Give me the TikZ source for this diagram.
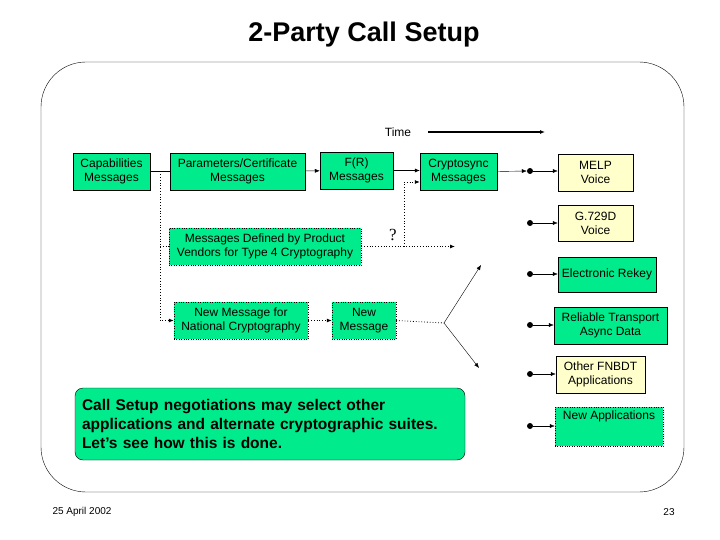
\documentclass[tikz,border=0pt]{standalone}
\usepackage{fontspec}
\setmainfont{Liberation Sans}
\newfontfamily\qserif{Liberation Serif}
\usetikzlibrary{arrows.meta}
\definecolor{gr}{RGB}{0,236,140}
\definecolor{cr}{RGB}{255,255,204}
\begin{document}
\begin{tikzpicture}[x=1pt,y=-1pt,
 box/.style={draw,fill=gr,inner sep=0pt,align=center,font=\fontsize{12}{14}\selectfont},
 dbox/.style={box,dotted},
 cbox/.style={box,fill=cr},
 ar/.style={-{Latex[length=5pt,width=4pt]}},
 dar/.style={ar,dotted,thick},
 dot/.style={circle,fill=black,inner sep=0pt,minimum size=6pt}]
\useasboundingbox (0,0) rectangle (720,540);
\node[font=\bfseries\fontsize{27}{30}\selectfont] (title) at (364,35) {2-Party Call Setup};
\draw[rounded corners=45pt] (41,62) rectangle (684,492);
\node[font=\fontsize{10}{12}\selectfont] (date) at (82,512) {25 April 2002};
\node[font=\fontsize{10}{12}\selectfont] (pg) at (669,512) {23};
\node[font=\fontsize{12}{14}\selectfont] (time) at (398,132) {Time};
\coordinate (t1) at (428,132); \coordinate (t2) at (545,132);
\draw[ar,line width=1.3pt] (t1) -- (t2);
% boxes
\node[box,minimum width=77,minimum height=37] (cap) at (111.5,171.5) {Capabilities\\Messages};
\node[box,minimum width=135,minimum height=37] (par) at (237.5,171.5) {Parameters/Certificate\\Messages};
\node[box,minimum width=73,minimum height=37] (fr) at (356.5,170.5) {F(R)\\Messages};
\node[box,minimum width=77,minimum height=37] (cs) at (458.5,171.5) {Cryptosync\\Messages};
\node[dbox,minimum width=192,minimum height=37] (md) at (265,246.5) {Messages Defined by Product\\Vendors for Type 4 Cryptography};
\node[dbox,minimum width=134,minimum height=37] (nm) at (241,320.5) {New Message for\\National Cryptography};
\node[dbox,minimum width=64,minimum height=37] (nw) at (364,320.5) {New\\Message};
% right side
\node[cbox,minimum width=75,minimum height=37] (melp) at (595.5,172.5) {MELP\\Voice};
\node[cbox,minimum width=75,minimum height=36] (g729) at (595.5,223) {G.729D\\Voice};
\node[box,minimum width=98,minimum height=35] (rek) at (607,274.5) {Electronic Rekey};
\node[box,minimum width=113,minimum height=37] (rel) at (610.5,325.5) {Reliable Transport\\Async Data};
\node[cbox,minimum width=89,minimum height=37] (oth) at (600.5,374.5) {Other FNBDT\\Applications};
\node[dbox,minimum width=108,minimum height=39] (napp) at (609,426.5) {};
\node[font=\fontsize{12}{14}\selectfont,anchor=north] (nappt) at (napp.north) {New Applications};
\node[dot] (d1) at (530,171) {};
\node[dot] (d2) at (530,223) {};
\node[dot] (d3) at (530,274) {};
\node[dot] (d4) at (530,325) {};
\node[dot] (d5) at (530,374) {};
\node[dot] (d6) at (530,426) {};
\foreach \d/\b in {d1/melp,d2/g729,d3/rek,d4/rel,d5/oth,d6/napp} \draw[ar] (\d) -- (\d -| \b.west);
% solid flow
\draw (cap) -- (par);
\draw[ar] (par) -- (fr);
\draw[ar] (fr.east) -- (fr.east -| cs.west);
\draw[ar] (cs.east) -- (d1.west);
% dotted
\coordinate (v0) at (160,171.5);
\coordinate (v1) at (160,320.5);
\draw[dar] (v0) -- (v1) -- (nm.west);
\draw[dotted,thick] (160,246.5) -- (md.west);
\coordinate (q1) at (455,246.5);
\draw[dar] (md.east) -- (q1);
\coordinate (q2) at (404,246.5); \coordinate (q3) at (404,182);
\draw[dar] (q2) -- (q3) -- (q3 -| cs.west);
\node[font=\qserif\fontsize{17}{17}\selectfont] (qm) at (393,235) {?};
\draw[dar] (nm) -- (nw);
\coordinate (br) at (444,323);
\coordinate (u) at (481,265); \coordinate (dn) at (479,368);
\draw[dotted,thick] (nw.east) -- (br);
\draw[ar] (br) -- (u); \draw[ar] (br) -- (dn);
% callout
\node[draw,fill=gr,rounded corners=8pt,minimum width=390,minimum height=72,text width=376,align=left,font=\bfseries\fontsize{15.5}{19}\selectfont] (call) at (270,424) {Call Setup negotiations may select other\\applications and alternate cryptographic suites.\\Let’s see how this is done.};
\end{tikzpicture}
\end{document}
